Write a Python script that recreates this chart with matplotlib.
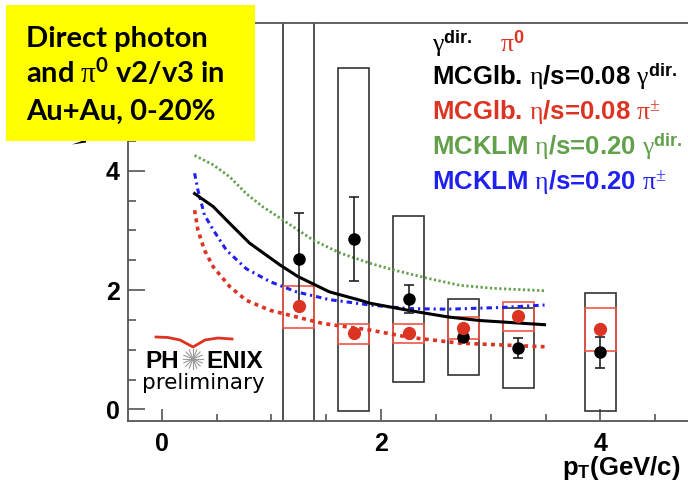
import numpy as np
import matplotlib
matplotlib.use("Agg")
import matplotlib.pyplot as plt
from matplotlib.patches import Rectangle, Polygon
from matplotlib.lines import Line2D
from matplotlib.ticker import MultipleLocator

plt.rcParams['font.family'] = ['Liberation Sans', 'DejaVu Sans']
plt.rcParams['mathtext.fontset'] = 'custom'
plt.rcParams['mathtext.rm'] = 'Liberation Serif:weight=normal'
plt.rcParams['mathtext.it'] = 'Liberation Serif:italic'
plt.rcParams['mathtext.bf'] = 'Liberation Sans:bold'
plt.rcParams['mathtext.sf'] = 'Lato:bold'

# data points (pT bins)
pt = [1.25, 1.75, 2.25, 2.75, 3.25, 4.0]
gamma_v = [2.52, 2.86, 1.85, 1.22, 1.03, 0.96]
gamma_err = [0.77, 0.70, 0.24, 0.07, 0.17, 0.26]
gamma_sys_lo = [-0.5, -0.03, 0.46, 0.58, 0.36, -0.03]
gamma_sys_hi = [7.0, 5.72, 3.24, 1.85, 1.70, 1.95]
pi0_v = [1.73, 1.28, 1.28, 1.36, 1.56, 1.35]
pi0_sys_lo = [1.36, 1.10, 1.11, 1.18, 1.31, 0.98]
pi0_sys_hi = [2.07, 1.43, 1.43, 1.55, 1.80, 1.70]

# model curves
mcglb_gam_x = [0.30, 0.47, 0.62, 0.80, 1.08, 1.24, 1.53, 1.81, 1.90, 2.25, 2.61, 2.90, 3.49]
mcglb_gam_y = [3.62, 3.40, 3.12, 2.79, 2.42, 2.23, 1.97, 1.83, 1.78, 1.66, 1.55, 1.49, 1.42]
mcglb_pi_x = [0.30, 0.33, 0.39, 0.47, 0.62, 0.77, 0.99, 1.23, 1.47, 1.90, 2.25, 2.72, 3.49]
mcglb_pi_y = [3.34, 3.01, 2.67, 2.39, 2.06, 1.83, 1.66, 1.55, 1.44, 1.33, 1.21, 1.11, 1.05]
mcklm_gam_x = [0.30, 0.47, 0.62, 0.77, 0.92, 1.11, 1.38, 1.63, 1.90, 2.11, 2.42, 2.72, 3.02, 3.49]
mcklm_gam_y = [4.26, 4.10, 3.90, 3.62, 3.40, 3.17, 2.84, 2.62, 2.45, 2.34, 2.20, 2.08, 2.03, 1.99]
mcklm_pi_x = [0.30, 0.33, 0.39, 0.47, 0.59, 0.77, 0.99, 1.23, 1.53, 1.90, 2.25, 2.61, 3.11, 3.49]
mcklm_pi_y = [3.96, 3.68, 3.26, 3.01, 2.67, 2.36, 2.14, 1.97, 1.84, 1.75, 1.69, 1.68, 1.71, 1.75]

RED = '#dd3322'
GREEN = '#62a04c'
BLUE = '#2020f0'
W, H = 688, 493


def fx(px):
    return px / W


def fy(py):
    return (H - py) / H


fig = plt.figure(figsize=(6.88, 4.93), dpi=100)
ax = fig.add_axes([fx(128), fy(420.7), (710.2 - 128) / W, (420.7 - 23) / H])
ax.set_xlim(-0.307, 5.0)
ax.set_ylim(-0.19, 6.48)

for s in ['top', 'left', 'bottom']:
    ax.spines[s].set_color('#555555')
    ax.spines[s].set_linewidth(1.3)
ax.spines['right'].set_visible(False)

ax.set_xticks([0, 2, 4])
ax.set_yticks([0, 2, 4])
ax.xaxis.set_minor_locator(MultipleLocator(0.5))
ax.yaxis.set_minor_locator(MultipleLocator(0.5))
ax.tick_params(axis='x', which='major', direction='in', length=8.6, width=1.2,
               color='#555555', pad=8, labelsize=18)
ax.tick_params(axis='x', which='minor', direction='in', length=5, width=1.2, color='#555555')
ax.tick_params(axis='y', which='major', direction='in', length=12, width=1.2,
               color='#555555', pad=6, labelsize=18)
ax.tick_params(axis='y', which='minor', direction='in', length=6, width=1.2, color='#555555')
for lab in ax.get_xticklabels() + ax.get_yticklabels():
    lab.set_fontweight('bold')

# systematic boxes
hi_g = np.array(gamma_sys_hi)
lo_g = np.array(gamma_sys_lo)
ax.bar(pt, hi_g - lo_g, width=0.28, bottom=lo_g, fill=False,
       edgecolor='#333333', linewidth=1.2, zorder=2)
hi_p = np.array(pi0_sys_hi)
lo_p = np.array(pi0_sys_lo)
ax.bar(pt, hi_p - lo_p, width=0.28, bottom=lo_p, fill=False,
       edgecolor='#f05848', linewidth=1.2, zorder=2.5)

# model curves
ax.plot(mcklm_gam_x, mcklm_gam_y, color=GREEN, lw=2.0, ls=(0, (0.8, 0.9)), zorder=3)
ax.plot(mcklm_pi_x, mcklm_pi_y, color=BLUE, lw=2.2, ls=(0, (1.8, 1.3, 0.7, 1.3)), zorder=3)
ax.plot(mcglb_pi_x, mcglb_pi_y, color=RED, lw=2.6, ls=(0, (1.1, 1.2)), zorder=3)
ax.plot(mcglb_gam_x, mcglb_gam_y, color='black', lw=2.2, zorder=3)

# data
ax.errorbar(pt, gamma_v, yerr=gamma_err, fmt='o', color='black', ecolor='#222222',
            ms=8, capsize=3.5, elinewidth=1.2, capthick=1.2, zorder=4)
ax.plot(pt, pi0_v, 'o', color=RED, ms=8.5, zorder=5)

# legend texts
fig.text(fx(432), fy(52), r'$\mathrm{\gamma}^{\mathbf{dir.}}$', fontsize=18.5,
         weight='bold', va='baseline')
fig.text(fx(500), fy(52), r'$\mathrm{\pi}^{\mathbf{0}}$', fontsize=18.5, weight='bold',
         va='baseline', color=RED)
legend_lines = [
    (r'MCGlb. $\mathrm{\eta}$/s=0.08 $\mathrm{\gamma}^{\mathbf{dir.}}$', 'black', 85),
    (r'MCGlb. $\mathrm{\eta}$/s=0.08 $\mathrm{\pi}^{\pm}$', RED, 120),
    (r'MCKLM $\mathrm{\eta}$/s=0.20 $\mathrm{\gamma}^{\mathbf{dir.}}$', GREEN, 155),
    (r'MCKLM $\mathrm{\eta}$/s=0.20 $\mathrm{\pi}^{\pm}$', BLUE, 190),
]
for txt, c, yb in legend_lines:
    fig.text(fx(432), fy(yb), txt, fontsize=18.5, weight='bold', color=c, va='baseline')

# x label
fig.text(fx(562), fy(475), r'p$_{\mathbf{T}}$(GeV/c)', fontsize=18.5, weight='bold',
         va='baseline')

# tip of the y label peeking out below the yellow box
fig.add_artist(Polygon([(fx(72), fy(144.5)), (fx(86), fy(139.5)), (fx(86), fy(142.5))],
                       closed=True, transform=fig.transFigure, facecolor='black',
                       edgecolor='none', zorder=1))

# yellow title box
fig.add_artist(Rectangle((fx(6), fy(141)), 249 / W, 136 / H, transform=fig.transFigure,
                         facecolor='#ffff00', edgecolor='none', zorder=10))
title_lines = ['Direct photon', r'and $\mathrm{\pi}^{\mathsf{0}}$ v2/v3 in', 'Au+Au, 0-20%']
for i, t in enumerate(title_lines):
    fig.text(fx(26), fy(47 + 36.5 * i), t, fontsize=21, family='Lato', weight='bold',
             va='baseline', zorder=11)

# PHENIX preliminary logo
fig.text(fx(145), fy(368), 'PH', fontsize=17.5, weight='bold', va='baseline')
fig.text(fx(206), fy(368), 'ENIX', fontsize=17.5, weight='bold', va='baseline')
cx, cy, r = 193, 359, 10
for a in np.linspace(0, np.pi, 8, endpoint=False):
    fig.add_artist(Line2D([fx(cx - r * np.cos(a)), fx(cx + r * np.cos(a))],
                          [fy(cy - r * np.sin(a)), fy(cy + r * np.sin(a))],
                          transform=fig.transFigure, color='#999999', lw=0.8))
sw_x = [156, 168, 180, 193, 205, 218, 232]
sw_y = [337, 337.5, 340, 347, 340, 338, 339]
fig.add_artist(Line2D([fx(v) for v in sw_x], [fy(v) for v in sw_y],
                      transform=fig.transFigure, color=RED, lw=2.0))
fig.text(fx(142), fy(389), 'preliminary', fontsize=15.5, weight='normal',
         family='DejaVu Sans', va='baseline')

fig.savefig('out.png', dpi=100)
